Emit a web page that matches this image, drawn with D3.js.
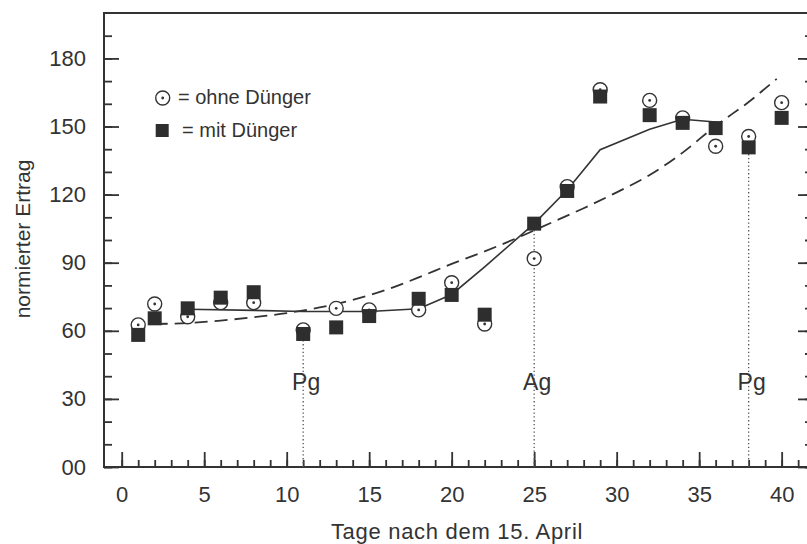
<!DOCTYPE html>
<html>
<head>
<meta charset="utf-8">
<script src="https://cdn.jsdelivr.net/npm/d3@7"></script>
<style>
  body { margin: 0; background: #fff; }
  svg { display: block; font-family: "Liberation Sans", Arial, sans-serif; }
  .axis text { font-size: 22px; fill: #333; }
  .axis line { stroke: #333; stroke-width: 1.8; }
</style>
</head>
<body>
<svg width="807" height="544"></svg>
<script>
// days after 15 April
const days = [1, 2, 4, 6, 8, 11, 13, 15, 18, 20, 22, 25, 27, 29, 32, 34, 36, 38, 40];
// normierter Ertrag, ohne Dünger (circles)
const ohneDuenger = [62.6, 71.8, 66.2, 72.4, 72.4, 60.4, 69.9, 69.2, 69.2, 81.2, 63, 91.8, 123.5, 166.2, 161.5, 153.8, 141.3, 145.6, 160.5];
// normierter Ertrag, mit Dünger (squares)
const mitDuenger = [58.2, 65.5, 69.9, 74.6, 77, 58.6, 61.5, 66.5, 74.1, 75.8, 67.1, 107.2, 121.6, 163.2, 155, 151.6, 149.3, 140.8, 153.8];

// solid trend line
const solidDays = [4, 8, 11, 15, 18, 20, 22, 25, 27, 29, 32, 34, 36];
const solidVals = [69.5, 69, 68.5, 68.5, 69.7, 76, 88.2, 107.2, 122, 139.8, 148.8, 153.2, 152];

// dashed trend curve
const dashDays = [2, 4, 6, 8, 10, 12, 14, 16, 18, 20, 22, 24, 26, 28, 30, 32, 34, 36, 38, 39.7];
const dashVals = [63, 63.4, 64.5, 66, 67.8, 70.3, 73.6, 78, 83.5, 89.5, 95, 101, 107.5, 114, 121, 128.6, 138.5, 150.3, 160.8, 171];

// growth stage markers
const stageDays = [11, 25, 38];
const stageLabels = ["Pg", "Ag", "Pg"];

const xMajor = d3.range(0, 41, 5);
const xMinor = d3.range(0, 42, 1);
const yMajor = [0, 30, 60, 90, 120, 150, 180];
const yMinor = d3.range(0, 200, 10);

const svg = d3.select("svg");

const x = d3.scaleLinear().domain([-1.073, 41.9]).range([104, 813]);
const y = d3.scaleLinear().domain([0, 200]).range([467, 13]);

// frame
svg.append("rect")
  .attr("x", x(-1.073)).attr("y", y(200))
  .attr("width", x(41.9) - x(-1.073)).attr("height", y(0) - y(200))
  .attr("fill", "none").attr("stroke", "#333").attr("stroke-width", 2);

// axes (ticks pointing inward)
svg.append("g").attr("class", "axis")
  .attr("transform", `translate(0,${y(0)})`)
  .call(d3.axisBottom(x).tickValues(xMinor).tickSize(-7).tickFormat(""))
  .call(g => g.select(".domain").remove());
svg.append("g").attr("class", "axis")
  .attr("transform", `translate(0,${y(0)})`)
  .call(d3.axisBottom(x).tickValues(xMajor).tickSize(-15).tickPadding(19).tickFormat(d3.format("d")))
  .call(g => g.select(".domain").remove());

svg.append("g").attr("class", "axis")
  .attr("transform", `translate(${x(-1.073)},0)`)
  .call(d3.axisLeft(y).tickValues(yMinor).tickSize(-8).tickFormat(""))
  .call(g => g.select(".domain").remove());
svg.append("g").attr("class", "axis")
  .attr("transform", `translate(${x(-1.073)},0)`)
  .call(d3.axisLeft(y).tickValues(yMajor).tickSize(-15).tickPadding(18).tickFormat(d => d === 0 ? "00" : d))
  .call(g => g.select(".domain").remove());

svg.append("g").attr("class", "axis")
  .attr("transform", `translate(${x(41.9)},0)`)
  .call(d3.axisRight(y).tickValues(yMinor).tickSize(-8).tickFormat(""))
  .call(g => g.select(".domain").remove());
svg.append("g").attr("class", "axis")
  .attr("transform", `translate(${x(41.9)},0)`)
  .call(d3.axisRight(y).tickValues(yMajor).tickSize(-15).tickFormat(""))
  .call(g => g.select(".domain").remove());

// axis titles
svg.append("text")
  .attr("x", 457).attr("y", 539)
  .attr("text-anchor", "middle")
  .attr("font-size", 22).attr("letter-spacing", 0.7).attr("fill", "#333")
  .text("Tage nach dem 15. April");

svg.append("text")
  .attr("transform", "translate(30,239) rotate(-90)")
  .attr("text-anchor", "middle")
  .attr("font-size", 21).attr("fill", "#333")
  .text("normierter Ertrag");

// dotted stage lines and labels
stageDays.forEach((d, i) => {
  const v = mitDuenger[days.indexOf(d)];
  svg.append("line")
    .attr("x1", x(d)).attr("x2", x(d))
    .attr("y1", y(0)).attr("y2", y(v) + 6)
    .attr("stroke", "#555").attr("stroke-width", 1.3)
    .attr("stroke-dasharray", "1.3,2.5");
  svg.append("text")
    .attr("x", x(d) + 3).attr("y", 390)
    .attr("text-anchor", "middle")
    .attr("font-size", 23).attr("fill", "#333")
    .text(stageLabels[i]);
});

// trend lines
const line = d3.line().x(d => x(d[0])).y(d => y(d[1]));

svg.append("path")
  .datum(dashDays.map((d, i) => [d, dashVals[i]]))
  .attr("d", line.curve(d3.curveMonotoneX))
  .attr("fill", "none").attr("stroke", "#333").attr("stroke-width", 1.8)
  .attr("stroke-dasharray", "13,7");

svg.append("path")
  .datum(solidDays.map((d, i) => [d, solidVals[i]]))
  .attr("d", line.curve(d3.curveLinear))
  .attr("fill", "none").attr("stroke", "#333").attr("stroke-width", 1.6);

// circles (ohne Dünger)
const circ = svg.append("g").selectAll("g")
  .data(days.map((d, i) => [d, ohneDuenger[i]]))
  .enter().append("g")
  .attr("transform", d => `translate(${x(d[0])},${y(d[1])})`);
circ.append("circle").attr("r", 7)
  .attr("fill", "#fff").attr("stroke", "#333").attr("stroke-width", 1.4);
circ.append("circle").attr("r", 1.4).attr("fill", "#333");

// squares (mit Dünger)
svg.append("g").selectAll("rect")
  .data(days.map((d, i) => [d, mitDuenger[i]]))
  .enter().append("rect")
  .attr("x", d => x(d[0]) - 7).attr("y", d => y(d[1]) - 7)
  .attr("width", 14).attr("height", 14)
  .attr("fill", "#2e2e2e");

// legend
const leg = svg.append("g").attr("font-size", 20).attr("fill", "#333");
leg.append("circle").attr("cx", 162.7).attr("cy", 98).attr("r", 7)
  .attr("fill", "#fff").attr("stroke", "#333").attr("stroke-width", 1.4);
leg.append("circle").attr("cx", 162.7).attr("cy", 98).attr("r", 1.4).attr("fill", "#333");
leg.append("text").attr("x", 178).attr("y", 104).text("= ohne Dünger");
leg.append("rect").attr("x", 155.7).attr("y", 124).attr("width", 13).attr("height", 13).attr("fill", "#2e2e2e");
leg.append("text").attr("x", 182).attr("y", 137).text("= mit Dünger");
</script>
</body>
</html>
